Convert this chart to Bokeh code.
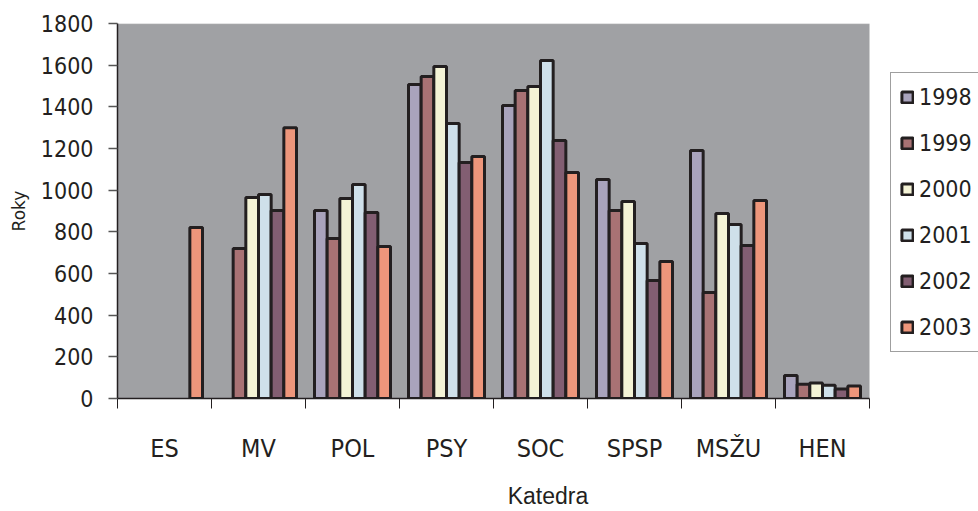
import math
from bokeh.plotting import figure
from bokeh.models import (ColumnDataSource, Range1d, FixedTicker, Legend, LegendItem, BoxAnnotation)
from bokeh.embed import file_html
from bokeh.resources import INLINE

NaN = float("nan")

categories = ["ES", "MV", "POL", "PSY", "SOC", "SPSP", "MSŽU", "HEN"]
years = ["1998", "1999", "2000", "2001", "2002", "2003"]

v1998 = [NaN, NaN, 902, 1507, 1407, 1051, 1191, 110]
v1999 = [NaN, 720, 768, 1546, 1479, 902, 509, 68]
v2000 = [NaN, 965, 960, 1594, 1498, 946, 888, 74]
v2001 = [NaN, 979, 1027, 1320, 1623, 744, 835, 64]
v2002 = [NaN, 902, 893, 1133, 1239, 566, 734, 46]
v2003 = [821, 1300, 730, 1162, 1085, 658, 951, 60]
series = [v1998, v1999, v2000, v2001, v2002, v2003]

y_ticks = list(range(0, 1801, 200))

colors = ["#a9a3bc", "#a87274", "#f4f3d6", "#cfe0ea", "#825e72", "#ee967b"]

NARROW = "'Liberation Sans Narrow', 'DejaVu Sans Condensed', sans-serif"
DARK = "#231f20"
GREY_BG = "#a0a1a4"

W, H = 978, 511
LEFT, RIGHT_EDGE = 117, 869          # plot-area edges in pixels
n = len(categories)
x_end = n * (W - LEFT) / (RIGHT_EDGE - LEFT)   # frame extends under the legend

p = figure(width=W, height=H, output_backend="svg", toolbar_location=None,
           x_range=Range1d(0, x_end), y_range=Range1d(0, 1800),
           min_border_left=LEFT, min_border_right=0, min_border_top=23, min_border_bottom=113,
           background_fill_color="white", border_fill_color="white")
p.outline_line_color = None
p.grid.grid_line_color = None

# grey plot area
p.add_layout(BoxAnnotation(left=0, right=n, bottom=0, top=1800, fill_color=GREY_BG,
                           fill_alpha=1, line_color=None, level="underlay"))
p.add_layout(BoxAnnotation(left=0, right=n, bottom=1800, top=1800, fill_alpha=0,
                           line_color="#d4d4d4", line_width=1.5, level="underlay"))

bar_w = 0.1348
centers = [i + 0.5 for i in range(n)]
renderers = []
for j, (yr, vals) in enumerate(zip(years, series)):
    xs = [c + (j - 2.5) * bar_w for c in centers]
    src = ColumnDataSource(dict(x=xs, top=vals))
    r = p.vbar(x="x", top="top", bottom=0, width=bar_w, source=src,
               fill_color=colors[j], line_color=DARK, line_width=3)
    renderers.append(r)

# x axis
xa = p.xaxis[0]
xa.bounds = (0, n)
xa.ticker = FixedTicker(ticks=centers, minor_ticks=list(range(n + 1)))
xa.major_label_overrides = {c: name for c, name in zip(centers, categories)}
xa.major_tick_line_color = None
xa.major_tick_out = 0
xa.major_tick_in = 0
xa.minor_tick_out = 10
xa.minor_tick_in = 0
xa.minor_tick_line_color = DARK
xa.axis_line_color = DARK
xa.axis_line_width = 1.5
xa.major_label_text_font = NARROW
xa.major_label_text_font_size = "25px"
xa.major_label_text_color = DARK
xa.major_label_standoff = 25
xa.axis_label = "Katedra"
xa.axis_label_text_font = "'Liberation Sans', sans-serif"
xa.axis_label_text_font_size = "23px"
xa.axis_label_text_font_style = "normal"
xa.axis_label_text_color = DARK
xa.axis_label_standoff = 17

# y axis
ya = p.yaxis[0]
ya.ticker = FixedTicker(ticks=y_ticks, minor_ticks=[])
ya.major_tick_out = 9
ya.major_tick_in = 0
ya.major_tick_line_color = "#555555"
ya.major_tick_line_width = 1.5
ya.axis_line_color = DARK
ya.axis_line_width = 1.5
ya.major_label_text_font = NARROW
ya.major_label_text_font_size = "23px"
ya.major_label_text_color = DARK
ya.major_label_standoff = 15
ya.axis_label = "Roky"
ya.axis_label_text_font = "'DejaVu Sans', sans-serif"
ya.axis_label_text_font_size = "17px"
ya.axis_label_text_font_style = "normal"
ya.axis_label_text_color = DARK
ya.axis_label_standoff = 9

legend = Legend(items=[LegendItem(label=yr, renderers=[r]) for yr, r in zip(years, renderers)],
                location=(890 - LEFT, 511 - 113 - 352))
legend.label_text_font = NARROW
legend.label_text_font_size = "23px"
legend.label_text_color = DARK
legend.glyph_width = 14
legend.glyph_height = 14
legend.label_standoff = 5
legend.label_height = 30
legend.spacing = 16
legend.padding = 9
legend.margin = 0
legend.border_line_color = "#404040"
legend.border_line_width = 1
legend.background_fill_color = "white"
legend.background_fill_alpha = 1
p.add_layout(legend, "center")

open("out.html", "w").write(file_html(p, INLINE))
